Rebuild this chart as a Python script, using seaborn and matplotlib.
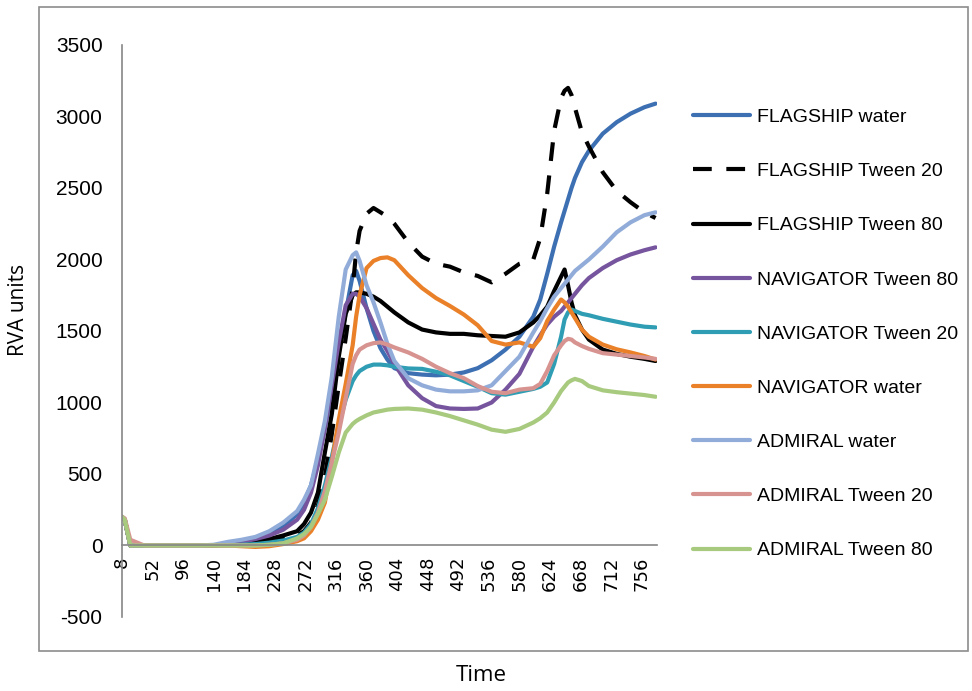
import pandas as pd
import seaborn as sns
import matplotlib.pyplot as plt
from matplotlib.patches import Rectangle

time = [8, 12, 20, 40, 80, 120, 140, 160, 180, 200, 220, 240, 260, 270, 280, 290, 300,
        310, 320, 330, 340, 345, 350, 360, 370, 380, 390, 400, 420, 440, 460, 480, 500,
        520, 540, 560, 580, 600, 610, 620, 630, 640, 645, 650, 655, 660, 670, 680, 700,
        720, 740, 760, 776]

flagship_water = [200, 180, 0, 0, 0, 0, 0, 15, 30, 50, 80, 130, 220, 300, 420, 600, 820,
                  1080, 1350, 1630, 1890, 1920, 1850, 1660, 1500, 1380, 1300, 1240, 1205, 1195, 1190, 1195, 1210,
                  1240, 1295, 1370, 1460, 1600, 1720, 1900, 2090, 2260, 2340, 2420, 2500, 2570, 2680, 2760, 2880,
                  2960, 3020, 3065, 3090]
flagship_t20 = [200, 180, 0, 0, 0, 0, 0, 5, 10, 20, 30, 45, 70, 100, 160, 280, 480,
                780, 1120, 1450, 1800, 2050, 2200, 2320, 2360, 2330, 2300, 2250, 2120, 2020, 1970, 1950, 1910,
                1885, 1840, 1900, 1970, 2000, 2150, 2460, 2900, 3130, 3180, 3200, 3150, 3060, 2890, 2790, 2610,
                2480, 2400, 2330, 2290]
flagship_t80 = [200, 180, 0, 0, 0, 0, 0, 5, 15, 30, 45, 70, 100, 150, 230, 370, 650,
                920, 1320, 1620, 1750, 1770, 1770, 1760, 1740, 1710, 1670, 1630, 1560, 1510, 1490, 1480, 1480,
                1470, 1465, 1460, 1490, 1560, 1610, 1670, 1780, 1880, 1930, 1820, 1700, 1610, 1510, 1440, 1370,
                1340, 1320, 1305, 1290]
nav_t80 = [200, 180, 0, 0, 0, 0, 0, 10, 25, 45, 70, 110, 180, 250, 370, 560, 820,
           1120, 1420, 1680, 1760, 1760, 1740, 1660, 1550, 1440, 1360, 1270, 1120, 1030, 975, 958, 955,
           958, 1000, 1090, 1200, 1390, 1470, 1545, 1600, 1640, 1670, 1700, 1730, 1760, 1820, 1870, 1940,
           1995, 2035, 2065, 2085]
nav_t20 = [200, 180, 0, 0, 0, 0, 0, 0, 5, 10, 20, 35, 60, 90, 150, 260, 420,
           620, 840, 1020, 1150, 1190, 1220, 1250, 1265, 1265, 1260, 1250, 1238, 1235, 1215, 1190, 1150,
           1110, 1065, 1055, 1075, 1095, 1110, 1140, 1270, 1460, 1580, 1630, 1650, 1640, 1620, 1610, 1585,
           1565, 1545, 1530, 1525]
nav_water = [200, 180, 0, 0, 0, 0, 0, 0, -5, -10, -5, 10, 30, 50, 100, 180, 300,
             580, 880, 1130, 1400, 1600, 1750, 1940, 1990, 2010, 2015, 1995, 1890, 1800, 1730, 1675, 1615,
             1540, 1430, 1405, 1420, 1390, 1450, 1570, 1650, 1720, 1700, 1670, 1630, 1590, 1510, 1460, 1405,
             1372, 1350, 1325, 1300]
adm_water = [200, 180, 0, 0, 0, 0, 5, 25, 40, 60, 100, 160, 240, 320, 420, 640, 870,
             1180, 1600, 1930, 2030, 2050, 1990, 1820, 1700, 1560, 1410, 1290, 1170, 1120, 1090, 1078, 1078,
             1085, 1120, 1220, 1320, 1490, 1570, 1660, 1740, 1800, 1830, 1860, 1890, 1920, 1960, 2000, 2090,
             2190, 2260, 2310, 2330]
adm_t20 = [200, 190, 40, 0, 0, 0, 0, 0, 0, 0, 5, 15, 40, 70, 130, 230, 380,
           580, 790, 1030, 1270, 1330, 1370, 1400, 1415, 1420, 1405, 1385, 1350, 1305, 1250, 1205, 1170,
           1115, 1075, 1065, 1090, 1100, 1130, 1220, 1330, 1400, 1430, 1445, 1440, 1420, 1395, 1375, 1345,
           1335, 1325, 1315, 1305]
adm_t80 = [200, 180, 0, 0, 0, 0, 0, 0, 0, 0, 5, 15, 50, 80, 130, 220, 320,
           480, 650, 790, 850, 870, 885, 910, 930, 940, 950, 955, 958, 950, 930, 905, 875,
           845, 810, 795, 815, 860, 890, 930, 1000, 1080, 1110, 1140, 1155, 1165, 1150, 1115, 1085,
           1072, 1062, 1052, 1040]

names = ["FLAGSHIP water", "FLAGSHIP Tween 20", "FLAGSHIP Tween 80",
         "NAVIGATOR Tween 80", "NAVIGATOR Tween 20", "NAVIGATOR water",
         "ADMIRAL water", "ADMIRAL Tween 20", "ADMIRAL Tween 80"]
values = [flagship_water, flagship_t20, flagship_t80, nav_t80, nav_t20, nav_water,
          adm_water, adm_t20, adm_t80]
colors = ["#3d6fb3", "#000000", "#000000", "#76559e", "#2f9db3", "#ea8129",
          "#92acd9", "#d79390", "#a8ca7e"]

x_labels = [8, 52, 96, 140, 184, 228, 272, 316, 360, 404, 448, 492, 536, 580, 624, 668, 712, 756]

df = pd.DataFrame(dict(zip(names, values)))
df["Time"] = time
long = df.melt(id_vars="Time", var_name="sample", value_name="RVA")

sns.set_style("white")
plt.rcParams['font.family'] = ['Liberation Sans', 'DejaVu Sans']
plt.rcParams['axes.unicode_minus'] = False
plt.rcParams['text.color'] = 'black'
plt.rcParams['xtick.labelcolor'] = 'black'
plt.rcParams['ytick.labelcolor'] = 'black'

fig = plt.figure(figsize=(9.72, 6.91), dpi=100)
ax = fig.add_axes([0.1255, 0.1071, 0.5504, 0.8278])

palette = dict(zip(names, colors))
dashes = {n: "" for n in names}
dashes["FLAGSHIP Tween 20"] = (4.5, 3.5)

sns.lineplot(data=long, x="Time", y="RVA", hue="sample", style="sample",
             hue_order=names, style_order=names, palette=palette, dashes=dashes,
             linewidth=3, estimator=None, legend=False, ax=ax)

ax.set_xlim(8, 778)
ax.set_ylim(-500, 3500)
ax.set_yticks(range(-500, 3501, 500))
ax.set_xticks(x_labels)
ax.set_xticks(list(range(8, 777, 4)), minor=True)
ax.set_xticklabels([str(v) for v in x_labels])
ax.set_xlabel("")
ax.set_ylabel("")

for s in ["top", "right"]:
    ax.spines[s].set_visible(False)
ax.spines["bottom"].set_position(("data", 0))
for s in ["left", "bottom"]:
    ax.spines[s].set_color("#868686")
    ax.spines[s].set_linewidth(1.2)

ax.tick_params(axis="y", length=5, width=1, color="#868686", pad=9, labelsize=15,
               labelcolor="black")
ax.tick_params(axis="x", which="both", length=6, width=0.9, color="#7a7a7a",
               pad=2, labelrotation=90, labelsize=13, labelfontfamily="DejaVu Sans",
               labelcolor="black")

handles = ax.get_lines()[:len(names)]
leg = fig.legend(handles, names, loc="upper left", bbox_to_anchor=(0.713, 0.843),
                 frameon=False, fontsize=14, handlelength=2.95, handletextpad=0.35,
                 labelspacing=1.88, borderpad=0, borderaxespad=0)
for t in leg.get_texts():
    t.set_color("black")

fig.text(0.019, 0.551, "RVA units", rotation=90, ha="center", va="center",
         fontsize=15, family="Open Sans", color="black")
fig.text(0.495, 0.022, "Time", ha="center", va="center", fontsize=16,
         family="Open Sans", color="black")

fig.add_artist(Rectangle((39 / 972, 1 - 651 / 691), 929 / 972, 644 / 691,
                         transform=fig.transFigure, fill=False, ec="#8c8c8c", lw=1.2))

fig.savefig("out.png", dpi=100)
